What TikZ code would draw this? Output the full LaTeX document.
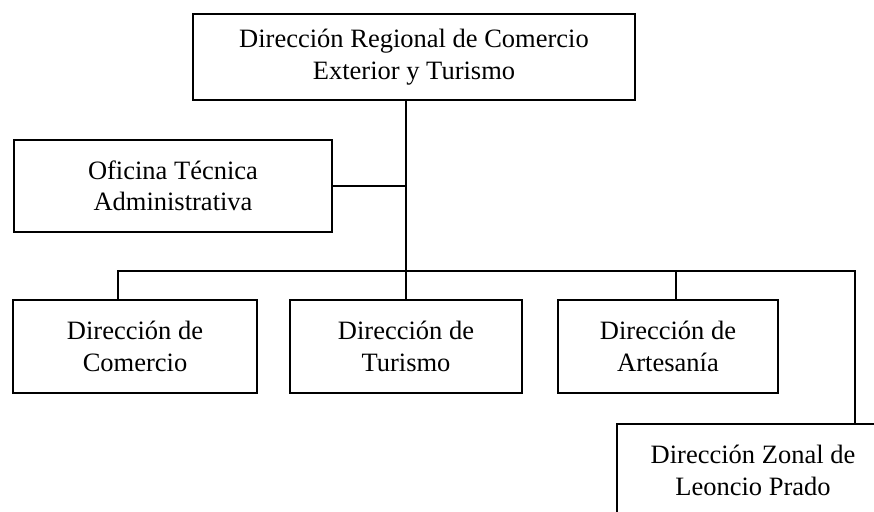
\documentclass[tikz,border=0pt]{standalone}
\usepackage{fontspec}
\setmainfont{Liberation Serif}
\begin{document}
\begin{tikzpicture}[x=1pt,y=-1pt,
  box/.style={draw,line width=1.5pt,inner sep=0pt,align=center,
    font=\fontsize{26.5}{31.5}\selectfont},
  topbox/.style={box,line width=2.2pt},
  conn/.style={line width=1.6pt}]
\useasboundingbox (0,0) rectangle (874,511);
\clip (0,0) rectangle (874,511);
\node[topbox,minimum width=442pt,minimum height=86pt] (top) at (414,57) {Dirección Regional de Comercio\\Exterior y Turismo};
\node[box,minimum width=318pt,minimum height=92pt] (ofi) at (173,186) {Oficina Técnica\\Administrativa};
\node[box,minimum width=244pt,minimum height=93pt] (com) at (135,346.5) {Dirección de\\Comercio};
\node[box,minimum width=232pt,minimum height=93pt] (tur) at (406,346.5) {Dirección de\\Turismo};
\node[box,minimum width=220pt,minimum height=93pt] (art) at (668,346.5) {Dirección de\\Artesanía};
\node[box,minimum width=272pt,minimum height=93pt] (zon) at (753,470.5) {Dirección Zonal de\\Leoncio Prado};
\coordinate (bl) at (118,271);
\coordinate (ba) at (676,271);
\coordinate (br) at (855,271);
\draw[conn] (top.south -| tur.north) -- (tur.north);
\draw[conn] (ofi.east) -- (ofi.east -| tur.north);
\draw[conn] (bl |- com.north) -- (bl) -- (br) -- (br |- zon.north);
\draw[conn] (ba) -- (ba |- art.north);
\end{tikzpicture}
\end{document}
